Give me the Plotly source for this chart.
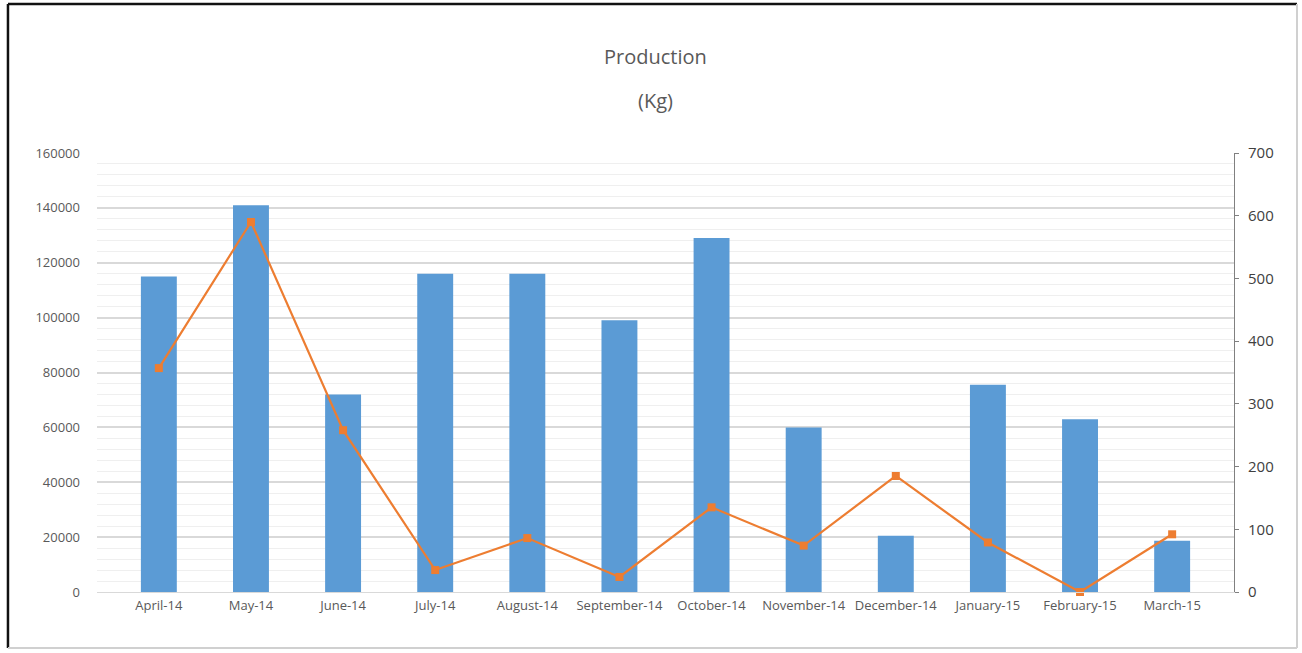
import plotly.graph_objects as go

months = ["April-14", "May-14", "June-14", "July-14", "August-14", "September-14",
          "October-14", "November-14", "December-14", "January-15", "February-15", "March-15"]
production_kg = [115000, 141000, 72000, 116000, 116000, 99000,
                 129000, 60000, 20500, 75500, 63000, 18700]
secondary_values = [357, 590, 258, 35, 86, 24, 135, 74, 185, 79, 0, 92]

left_ticks = [0, 20000, 40000, 60000, 80000, 100000, 120000, 140000, 160000]
right_ticks = [0, 100, 200, 300, 400, 500, 600, 700]

font_family = "Open Sans, Liberation Sans, sans-serif"
text_grey = "#595959"

fig = go.Figure()

fig.add_trace(go.Bar(
    x=months, y=production_kg,
    marker=dict(color="#5B9BD5", line=dict(width=0)),
    yaxis="y", name="Production",
))

fig.add_trace(go.Scatter(
    x=months, y=secondary_values,
    mode="lines+markers",
    line=dict(color="#ED7D31", width=2.2),
    marker=dict(symbol="square", size=8, color="#ED7D31"),
    yaxis="y2", name="Series 2", cliponaxis=False,
))

fig.update_layout(
    width=1302, height=653,
    margin=dict(l=97, r=68, t=153, b=61),
    paper_bgcolor="white", plot_bgcolor="white",
    showlegend=False,
    bargap=0.61,
    font=dict(family=font_family, color=text_grey, size=13),
    xaxis=dict(
        type="category", tickangle=0, showgrid=False,
        showline=True, linecolor="#D9D9D9", linewidth=1,
        ticks="", tickfont=dict(size=13, color=text_grey),
        ticklabelstandoff=1,
        zeroline=False,
    ),
    yaxis=dict(
        range=[0, 160000], tickvals=left_ticks,
        ticktext=[str(v) for v in left_ticks],
        showgrid=True, gridcolor="#D9D9D9", gridwidth=1.5,
        minor=dict(dtick=4000, showgrid=True, gridcolor="#EFEFEF", gridwidth=1),
        zeroline=False, showline=False, ticks="",
        ticklabelstandoff=16,
        tickfont=dict(size=13, color=text_grey),
    ),
    yaxis2=dict(
        overlaying="y", side="right",
        range=[0, 700], tickvals=right_ticks,
        showgrid=False, zeroline=False,
        showline=True, linecolor="#808080", linewidth=1,
        ticks="outside", ticklen=4, tickcolor="#808080",
        ticklabelstandoff=6,
        tickfont=dict(size=15, color="#404040"),
    ),
)

# two-line chart title
fig.add_annotation(text="Production", xref="paper", yref="paper", x=0.4908, y=1.2187,
                   xanchor="center", yanchor="middle", showarrow=False,
                   font=dict(family=font_family, size=20, color=text_grey))
fig.add_annotation(text="(Kg)", xref="paper", yref="paper", x=0.4908, y=1.1207,
                   xanchor="center", yanchor="middle", showarrow=False,
                   font=dict(family=font_family, size=20, color=text_grey))

# outer chart frame: dark on top/left, soft grey on right/bottom
fx0, fx1, fy0, fy1 = -0.0783, 1.0554, -0.1276, 1.3394
fig.add_shape(type="line", xref="paper", yref="paper", x0=fx0, x1=fx0, y0=fy0, y1=fy1,
              line=dict(color="#111111", width=2.5))
fig.add_shape(type="line", xref="paper", yref="paper", x0=fx0, x1=fx1, y0=fy1, y1=fy1,
              line=dict(color="#111111", width=2.5))
fig.add_shape(type="line", xref="paper", yref="paper", x0=fx1, x1=fx1, y0=fy0, y1=fy1,
              line=dict(color="#D0D0D0", width=2))
fig.add_shape(type="line", xref="paper", yref="paper", x0=fx0, x1=fx1, y0=fy0, y1=fy0,
              line=dict(color="#D0D0D0", width=2))

fig.write_html("out.html")
